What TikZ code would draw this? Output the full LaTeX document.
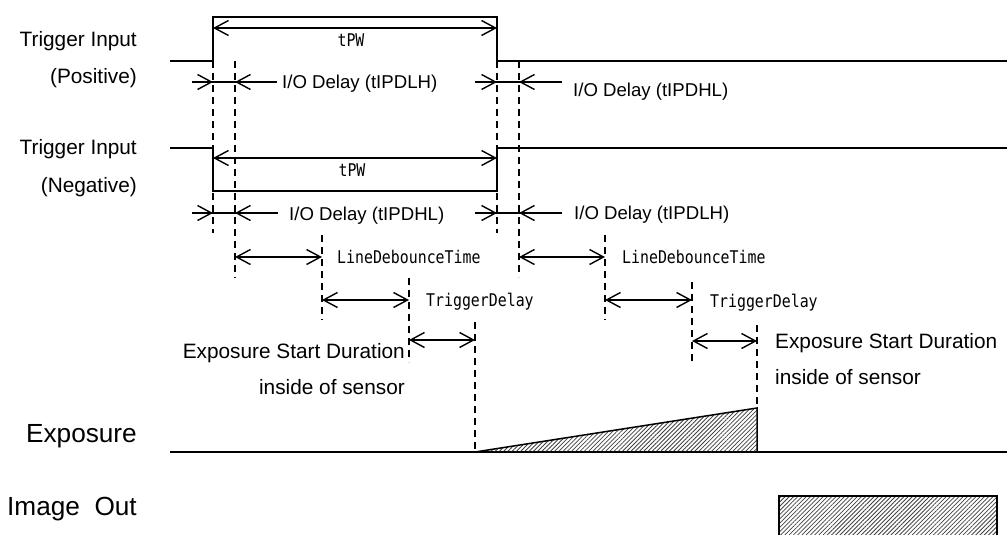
\documentclass[tikz,border=0pt]{standalone}
\usepackage{fontspec}
\setmainfont{Liberation Sans}
\newfontfamily\gothic[FakeStretch=0.85]{DejaVu Sans Mono}
\usetikzlibrary{arrows.meta,patterns.meta}
\begin{document}
\begin{tikzpicture}[x=1pt,y=-1pt,
  sig/.style={line width=2pt},
  dim/.style={line width=1.4pt},
  dsh/.style={line width=1.3pt, dash pattern=on 7pt off 5pt},
  barb/.tip={Straight Barb[length=14pt,width=15pt]},
  onearrow/.style={dim,-barb},
  twoarrow/.style={dim,barb-barb},
  lbl/.style={inner sep=0pt, font=\fontsize{20.8}{25}\selectfont},
  biglbl/.style={inner sep=0pt, font=\fontsize{26.2}{30}\selectfont},
  iolbl/.style={inner sep=0pt, font=\fontsize{18.6}{22}\selectfont},
  mono/.style={inner sep=0pt, font=\gothic\fontsize{17.5}{20}\selectfont},
  hatch/.style={line width=1.5pt, pattern={Lines[angle=45,distance=3pt,line width=0.8pt]}, pattern color=black!75}
]
\useasboundingbox (0,0) rectangle (1007,535);
\clip (0,0) rectangle (1007,535);

% left labels
\node[lbl, anchor=base east] (tip1) at (137,46.5) {Trigger Input};
\node[lbl, anchor=base east] (pos) at (137,83.5) {(Positive)};
\node[lbl, anchor=base east] (tip2) at (137,154) {Trigger Input};
\node[lbl, anchor=base east] (neg) at (137,192.5) {(Negative)};
\node[biglbl, anchor=base east] (exp) at (137,442) {Exposure};
\node[biglbl, anchor=base east] (img) at (137,515) {Image\ \ Out};

% positive trigger
\draw[sig] (170,61) -- (213,61) -- (213,17) -- (497,17) -- (497,61) -- (1007,61);
\draw[twoarrow] (213,28) -- (497,28);
\node[mono, anchor=base] (tpw1) at (351,46.5) {tPW};

% negative trigger
\draw[sig] (170,148) -- (213,148) -- (213,191) -- (497,191) -- (497,148) -- (1007,148);
\draw[twoarrow] (213,158) -- (497,158);
\node[mono, anchor=base] (tpw2) at (352,176.5) {tPW};

% dashed guides
\draw[dsh] (213,61) -- (213,233);
\draw[dsh] (235,61) -- (235,278);
\draw[dsh] (497,61) -- (497,233);
\draw[dsh] (519,61) -- (519,277);
\draw[dsh] (322,235) -- (322,320);
\draw[dsh] (605,235) -- (605,320);
\draw[dsh] (409,278) -- (409,362);
\draw[dsh] (692,282) -- (692,365);
\draw[dsh] (475,322) -- (475,452);
\draw[dsh] (757,325) -- (757,408);

% I/O delays (positive)
\draw[dim] (192,82) -- (277,82);
\draw[onearrow] (192,82) -- (213,82);
\draw[onearrow] (277,82) -- (235,82);
\node[iolbl, anchor=base west] (io1) at (282,88.7) {I/O Delay (tIPDLH)};
\draw[dim] (475,82) -- (562,82);
\draw[onearrow] (475,82) -- (497,82);
\draw[onearrow] (562,82) -- (519,82);
\node[iolbl, anchor=base west] (io2) at (573,96.7) {I/O Delay (tIPDHL)};

% I/O delays (negative)
\draw[dim] (192,213) -- (278,213);
\draw[onearrow] (192,213) -- (213,213);
\draw[onearrow] (278,213) -- (235,213);
\node[iolbl, anchor=base west] (io3) at (289,220.5) {I/O Delay (tIPDHL)};
\draw[dim] (475,213) -- (562,213);
\draw[onearrow] (475,213) -- (497,213);
\draw[onearrow] (562,213) -- (519,213);
\node[iolbl, anchor=base west] (io4) at (574,219) {I/O Delay (tIPDLH)};

% LineDebounceTime
\draw[twoarrow] (235,257) -- (322,257);
\node[mono, anchor=base west] (ldt1) at (337,263) {LineDebounceTime};
\draw[twoarrow] (519,257) -- (605,257);
\node[mono, anchor=base west] (ldt2) at (622,263.3) {LineDebounceTime};

% TriggerDelay
\draw[twoarrow] (322,300) -- (409,300);
\node[mono, anchor=base west] (td1) at (426,306.5) {TriggerDelay};
\draw[twoarrow] (605,300) -- (692,300);
\node[mono, anchor=base west] (td2) at (710,307) {TriggerDelay};

% Exposure start duration
\draw[twoarrow] (409,340) -- (475,340);
\node[lbl, anchor=base east] (esd1) at (405,358) {Exposure Start Duration};
\node[lbl, anchor=base east] (ins1) at (405,394) {inside of sensor};
\draw[twoarrow] (692,341) -- (757,341);
\node[lbl, anchor=base west] (esd2) at (775,348) {Exposure Start Duration};
\node[lbl, anchor=base west] (ins2) at (775,384) {inside of sensor};

% exposure
\draw[line width=1.5pt] (170,452) -- (1007,452);
\draw[hatch] (475,452) -- (757,408) -- (757,452) -- cycle;

% image out
\draw[hatch] (779,496) rectangle (997,545);
\end{tikzpicture}
\end{document}
